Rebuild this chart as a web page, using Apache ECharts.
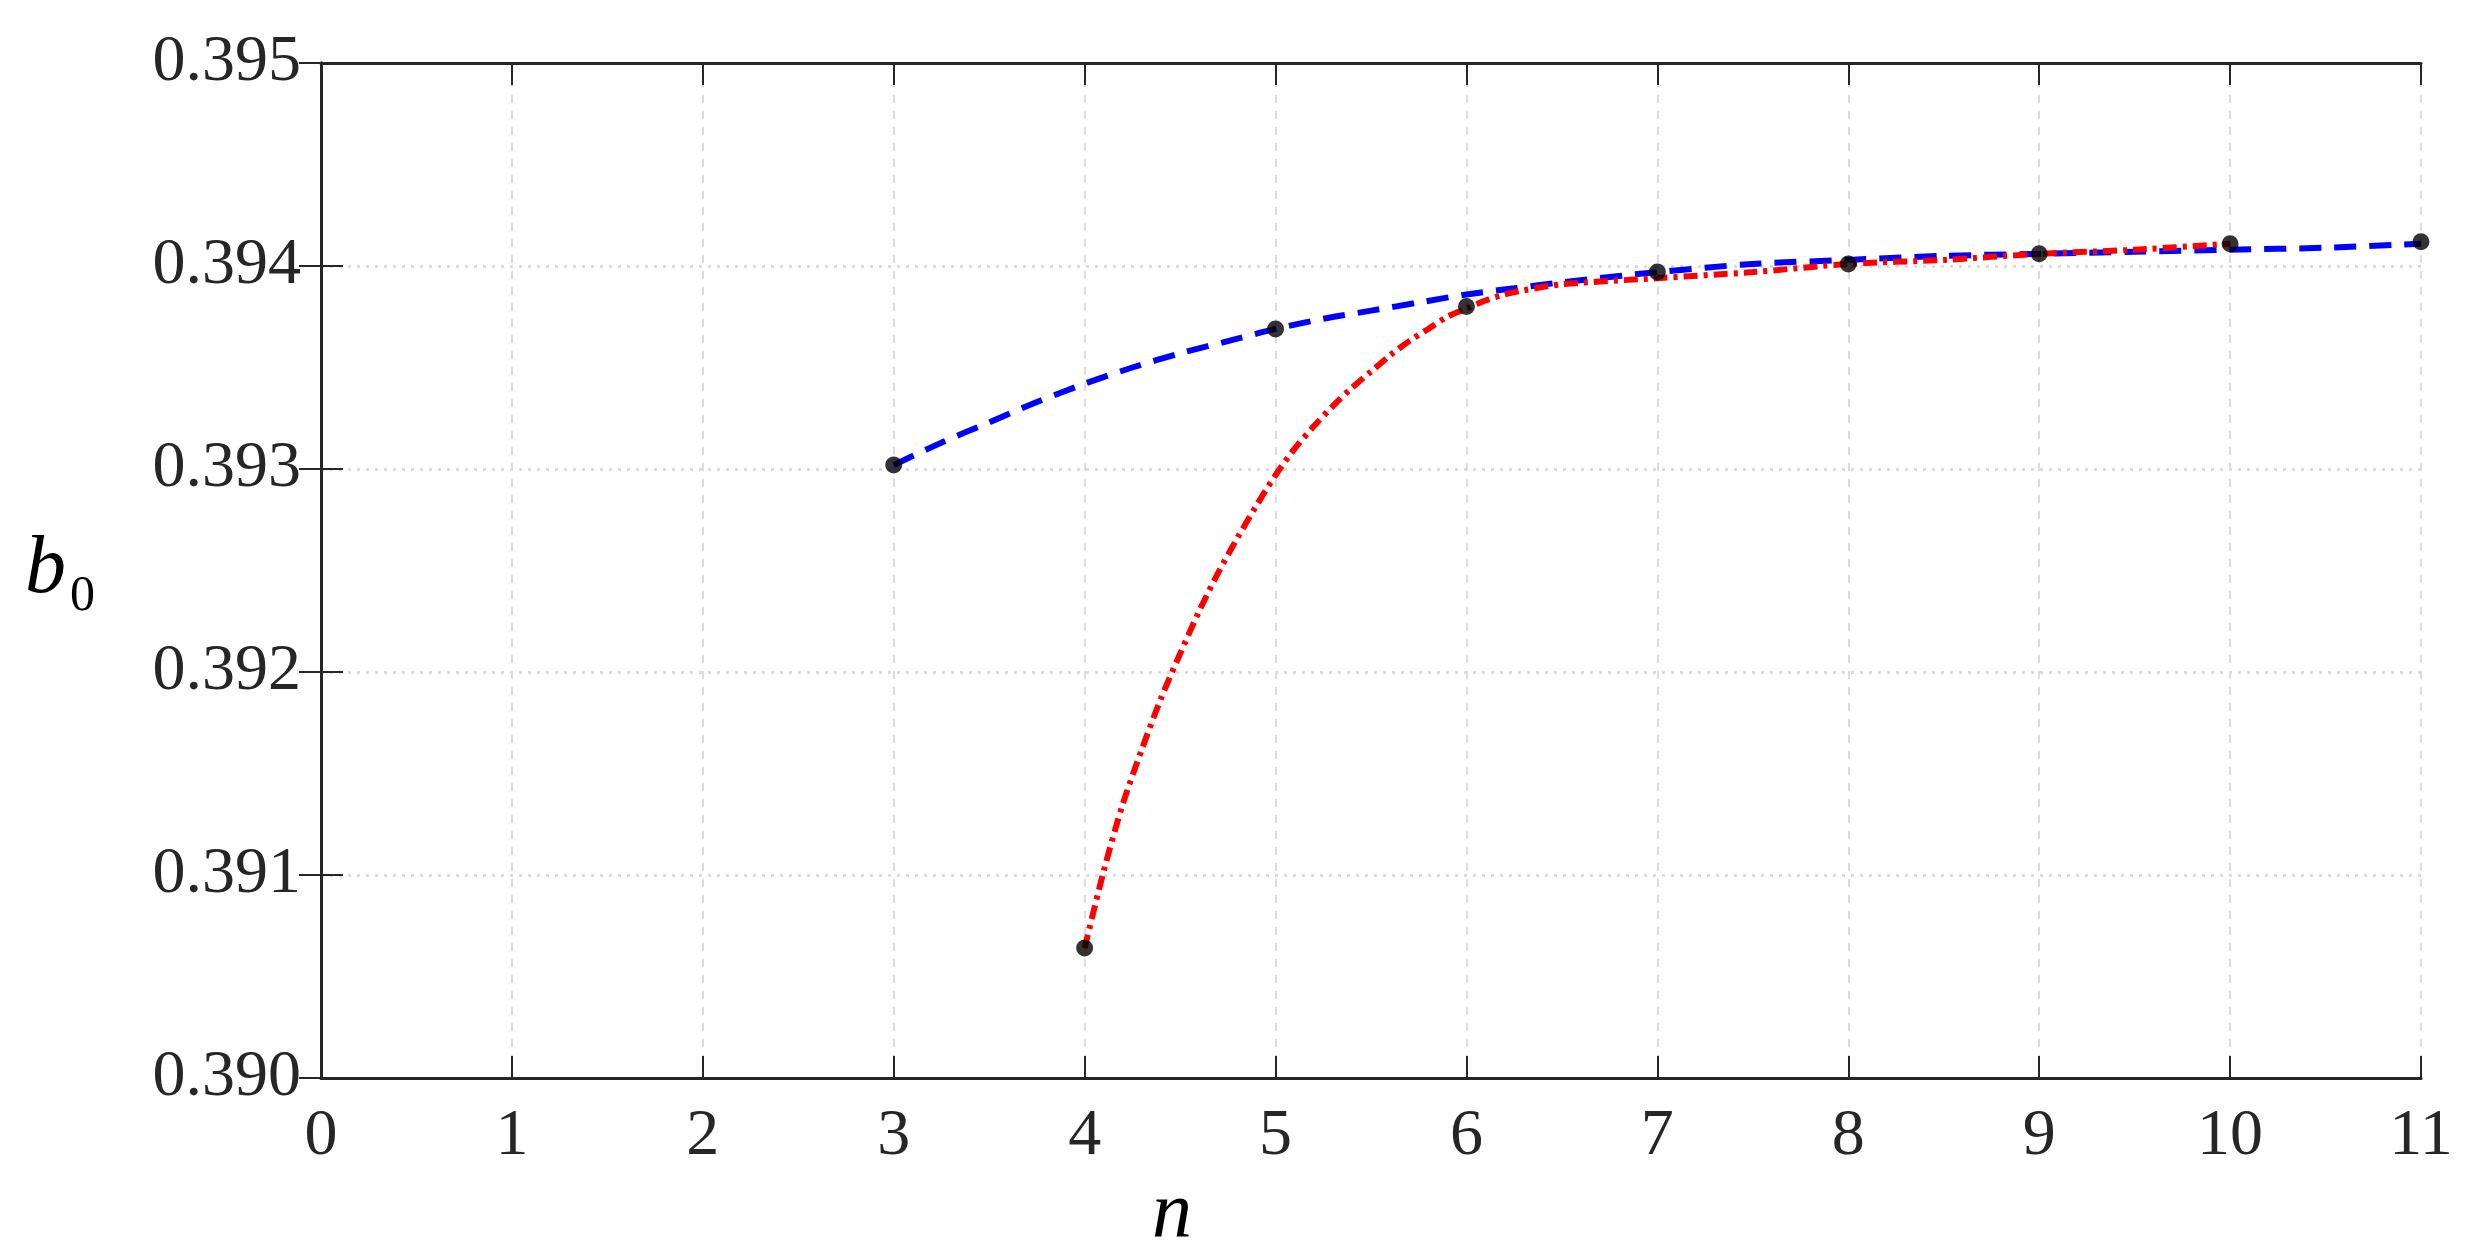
<!DOCTYPE html>
<html>
<head>
<meta charset="utf-8">
<script src="https://cdn.jsdelivr.net/npm/echarts@6/dist/echarts.min.js"></script>
<style>
  html, body { margin: 0; padding: 0; background: #fff; }
  #chart { width: 2467px; height: 1260px; }
</style>
</head>
<body>
<div id="chart"></div>
<script>
// computed points (black dots)
var oddN = [3, 5, 7, 9, 11];
var oddB = [0.39302, 0.39369, 0.39397, 0.39406, 0.39412];
var evenN = [4, 6, 8, 10];
var evenB = [0.39064, 0.39380, 0.39401, 0.39411];

// blue dashed curve
var blueN = [3, 3.25, 3.5, 3.75, 4, 4.25, 4.5, 4.75, 5, 5.25, 5.5, 5.75, 6, 6.25, 6.5, 7, 7.5, 8, 8.5, 9, 9.5, 10, 10.5, 11];
var blueB = [0.39302, 0.39313, 0.39323, 0.39333, 0.39342, 0.39350, 0.39357, 0.39363, 0.39369, 0.39374, 0.39378, 0.39382, 0.39386, 0.39389, 0.39392, 0.39397, 0.39401, 0.39403, 0.39405, 0.39406, 0.39407, 0.39408, 0.39409, 0.39411];

// red dash-dot curve
var redN = [4, 4.1, 4.2, 4.3, 4.4, 4.5, 4.6, 4.7, 4.8, 4.9, 5, 5.1, 5.2, 5.3, 5.4, 5.5, 5.6, 5.7, 5.8, 5.9, 6, 6.1, 6.2, 6.3, 6.5, 7, 7.5, 8, 8.5, 9, 9.5, 10];
var redB = [0.39064, 0.39102, 0.39135, 0.39162, 0.39187, 0.39209, 0.39230, 0.39249, 0.39266, 0.39282, 0.39297, 0.39310, 0.39321, 0.39331, 0.39340, 0.39348, 0.39356, 0.39363, 0.39369, 0.39375, 0.39379, 0.39383, 0.39386, 0.39388, 0.39391, 0.39394, 0.39397, 0.39401, 0.39403, 0.39406, 0.39408, 0.39411];

var xTicks = [0, 1, 2, 3, 4, 5, 6, 7, 8, 9, 10, 11];
var yTicks = ['0.390', '0.391', '0.392', '0.393', '0.394', '0.395'];

function zip(a, b) {
  return a.map(function (v, i) { return [v, b[i]]; });
}

var serif = 'Liberation Serif';
var axisColor = '#262626';

var chart = echarts.init(document.getElementById('chart'));
chart.setOption({
  backgroundColor: '#fff',
  animation: false,
  grid: { left: 321, right: 46, top: 63, bottom: 182 },
  xAxis: [{
    type: 'value', min: 0, max: 11, interval: 1,
    name: 'n', nameLocation: 'middle', nameGap: 92,
    nameTextStyle: { fontFamily: serif, fontStyle: 'italic', fontSize: 80, color: '#000', padding: [0, 398, 0, 0] },
    axisLine: { lineStyle: { color: axisColor, width: 3 } },
    axisTick: { inside: true, length: 22, lineStyle: { color: axisColor, width: 2 } },
    axisLabel: {
      fontFamily: serif, fontSize: 66, color: axisColor, margin: 26,
      formatter: function (v) { return xTicks.indexOf(v) >= 0 ? String(v) : ''; }
    },
    splitLine: { show: true, lineStyle: { color: '#dcdcdc', width: 2, type: [8, 8] } }
  }, {
    type: 'value', min: 0, max: 11, interval: 1, position: 'top',
    axisLine: { lineStyle: { color: axisColor, width: 3 } },
    axisTick: { inside: true, length: 22, lineStyle: { color: axisColor, width: 2 } },
    axisLabel: { show: false },
    splitLine: { show: false }
  }],
  yAxis: [{
    type: 'value', min: 0.390, max: 0.395, interval: 0.001,
    name: '{b|b}{s|0}', nameLocation: 'middle', nameRotate: 0, nameGap: 226,
    nameTextStyle: {
      rich: {
        b: { fontFamily: serif, fontStyle: 'italic', fontSize: 82, color: '#000' },
        s: { fontFamily: serif, fontSize: 50, color: '#000', padding: [52, 0, 0, 4] }
      }
    },
    axisLine: { lineStyle: { color: axisColor, width: 3 } },
    axisTick: { inside: true, length: 22, lineStyle: { color: axisColor, width: 2 } },
    axisLabel: {
      fontFamily: serif, fontSize: 66, color: axisColor, margin: 20,
      formatter: function (v) { return yTicks[Math.round((v - 0.390) * 1000)]; }
    },
    splitLine: { show: true, lineStyle: { color: '#dcdcdc', width: 3, type: [3, 6] } }
  }, {
    type: 'value', min: 0.390, max: 0.395, interval: 0.001, position: 'right',
    axisLine: { lineStyle: { color: axisColor, width: 3 } },
    axisTick: { inside: true, length: 22, lineStyle: { color: axisColor, width: 2 } },
    axisLabel: { show: false },
    splitLine: { show: false }
  }],
  series: [
    {
      type: 'line', data: zip(blueN, blueB), smooth: 0.3, showSymbol: false,
      lineStyle: { color: '#0000ff', width: 6, type: [22, 13] }
    },
    {
      type: 'line', data: zip(redN, redB), smooth: 0.3, showSymbol: false,
      lineStyle: { color: '#ff0000', width: 6, type: [14, 6, 4, 6] }
    },
    {
      type: 'scatter', data: zip(oddN, oddB), symbolSize: 17,
      itemStyle: { color: '#000' }, z: 5
    },
    {
      type: 'scatter', data: zip(evenN, evenB), symbolSize: 17,
      itemStyle: { color: '#000' }, z: 5
    }
  ]
});
</script>
</body>
</html>
